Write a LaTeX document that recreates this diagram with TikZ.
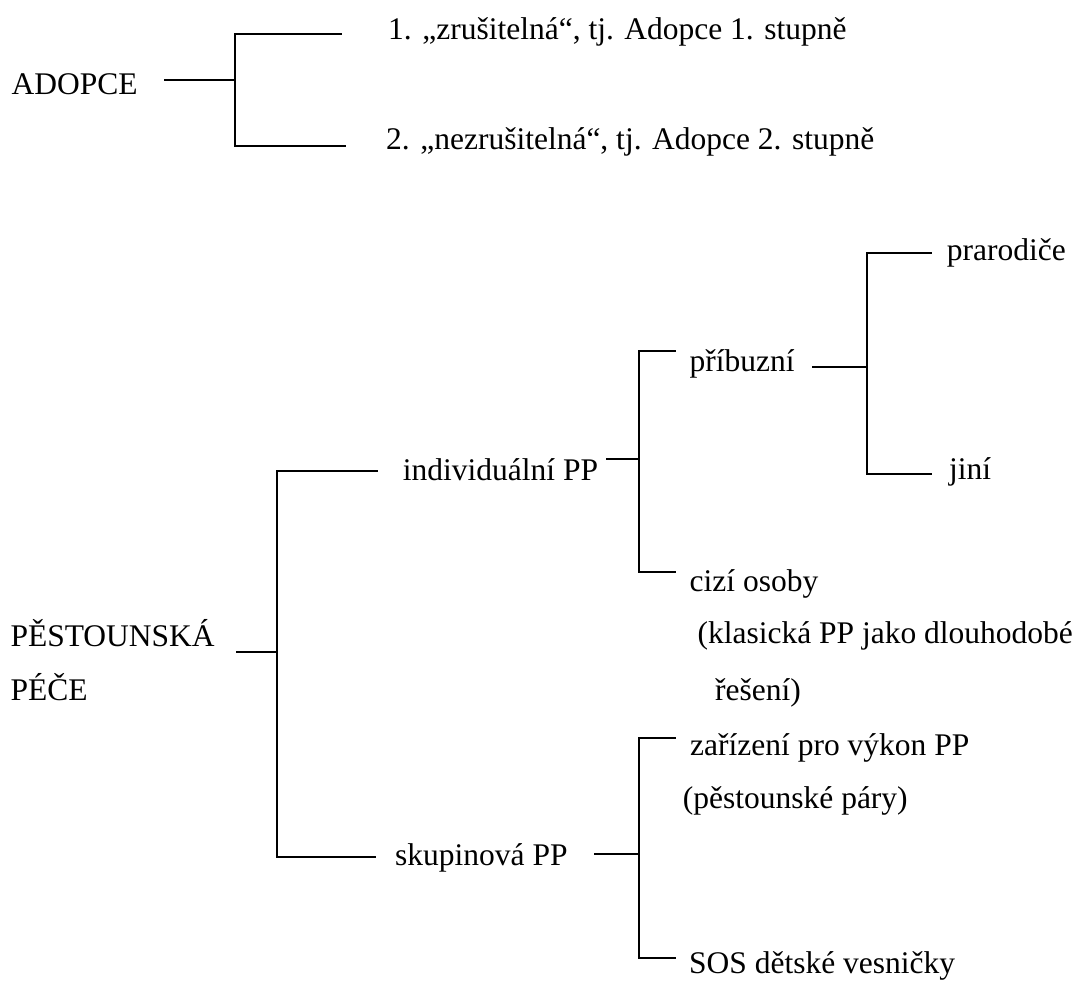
\documentclass[tikz,border=0pt]{standalone}
\usepackage{fontspec}
\setmainfont{Liberation Serif}
\begin{document}
\begin{tikzpicture}[x=1pt,y=-1pt,
  lbl/.style={anchor=base west,inner sep=0pt,font=\fontsize{31.5}{36}\selectfont},
  conn/.style={draw=black,line width=2.2pt,line cap=rect}]
\useasboundingbox (0,0) rectangle (1079,982);
% ---------- ADOPCE ----------
\node[lbl] (adopce) at (11.4,94) {ADOPCE};
\node[lbl] (ad1) at (388,39.3) {1. „zrušitelná“, tj. Adopce 1. stupně};
\node[lbl] (ad2) at (386,149) {2. „nezrušitelná“, tj. Adopce 2. stupně};
\coordinate (a0) at (165,80);
\coordinate (aj) at (235,80);
\coordinate (at) at (235,34);
\coordinate (ab) at (235,146);
\coordinate (ate) at (341,34);
\coordinate (abe) at (345,146);
\draw[conn] (a0) -- (aj);
\draw[conn] (ate) -- (at) -- (ab) -- (abe);
% ---------- PESTOUNSKA PECE ----------
\node[lbl] (pp1) at (10.3,646) {PĚSTOUNSKÁ};
\node[lbl] (pp2) at (10.3,700) {PÉČE};
\coordinate (p0) at (237,652);
\coordinate (pj) at (277,652);
\coordinate (pt) at (277,471);
\coordinate (pb) at (277,857);
\coordinate (pte) at (377,471);
\coordinate (pbe) at (375,857);
\draw[conn] (p0) -- (pj);
\draw[conn] (pte) -- (pt) -- (pb) -- (pbe);
\node[lbl] (ind) at (402.7,480) {individuální PP};
\node[lbl] (sku) at (395,865) {skupinová PP};
% individualni
\coordinate (i0) at (607,459);
\coordinate (ij) at (639,459);
\coordinate (it) at (639,351);
\coordinate (ib) at (639,572);
\coordinate (ite) at (675,351);
\coordinate (ibe) at (675,572);
\draw[conn] (i0) -- (ij);
\draw[conn] (ite) -- (it) -- (ib) -- (ibe);
\node[lbl] (pri) at (689.5,371) {příbuzní};
\node[lbl] (ciz1) at (689.5,591) {cizí osoby};
\node[lbl] (ciz2) at (697.4,643) {(klasická PP jako dlouhodobé};
\node[lbl] (ciz3) at (715,700) {řešení)};
% pribuzni
\coordinate (r0) at (813,367);
\coordinate (rj) at (867,367);
\coordinate (rt) at (867,253);
\coordinate (rb) at (867,474);
\coordinate (rte) at (931,253);
\coordinate (rbe) at (931,474);
\draw[conn] (r0) -- (rj);
\draw[conn] (rte) -- (rt) -- (rb) -- (rbe);
\node[lbl] (pra) at (946.7,260.7) {prarodiče};
\node[lbl] (jin) at (949,479) {jiní};
% skupinova
\coordinate (s0) at (595,854);
\coordinate (sj) at (639,854);
\coordinate (st) at (639,738);
\coordinate (sb) at (639,958);
\coordinate (ste) at (675,738);
\coordinate (sbe) at (675,958);
\draw[conn] (s0) -- (sj);
\draw[conn] (ste) -- (st) -- (sb) -- (sbe);
\node[lbl] (zar1) at (690,755) {zařízení pro výkon PP};
\node[lbl] (zar2) at (682.7,808) {(pěstounské páry)};
\node[lbl] (sos) at (689,973) {SOS dětské vesničky};
\end{tikzpicture}
\end{document}
